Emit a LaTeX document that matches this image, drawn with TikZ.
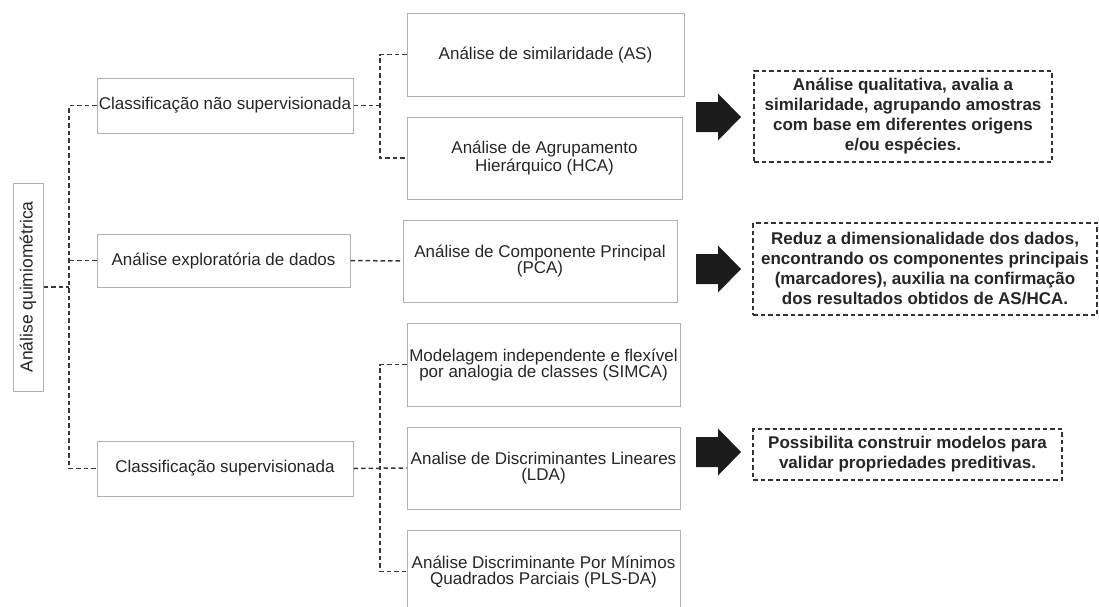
\documentclass[tikz,border=0pt]{standalone}
\usepackage{fontspec}
\setmainfont{Liberation Sans}
\definecolor{boxgray}{HTML}{B0B0B0}
\definecolor{txt}{HTML}{262626}
\definecolor{conncol}{HTML}{383838}
\definecolor{dashcol}{HTML}{333333}
\definecolor{arrowcol}{HTML}{1C1C1C}
\begin{document}
\begin{tikzpicture}[x=1pt,y=-1pt,
  box/.style={draw=boxgray, line width=1pt, fill=white, inner sep=0pt, align=center, text=txt, font=\fontsize{17}{16}\selectfont},
  note/.style={draw=dashcol, line width=1.5pt, dash pattern=on 4.5pt off 3pt, inner sep=0pt, align=center, text=txt, font=\fontsize{17}{20}\selectfont\bfseries},
  conn/.style={draw=conncol, line width=1.5pt, dash pattern=on 4.5pt off 3pt},
  bigarrow/.pic={\fill[arrowcol] (0,-15) -- (22,-15) -- (22,-23.5) -- (45,0) -- (22,23.5) -- (22,15) -- (0,15) -- cycle;}]
\useasboundingbox (0,0) rectangle (1099,606);
\clip (0,0) rectangle (1099,606);
\fill[white] (0,0) rectangle (1099,606);

\coordinate (tx) at (69,0);
\coordinate (bx) at (380,0);

% root
\node[box, minimum width=208, minimum height=30, rotate=90, font=\fontsize{17.5}{16}\selectfont] (root) at (28,287) {Análise quimiométrica};

% level 1
\node[box, minimum width=256, minimum height=55] (c1) at (225,105.5) {Classificação não supervisionada};
\node[box, minimum width=253, minimum height=53] (c2) at (223.5,260.5) {Análise exploratória de dados};
\node[box, minimum width=256, minimum height=55] (c3) at (225,468.5) {Classificação supervisionada};

% level 2
\node[box, minimum width=277, minimum height=83] (as) at (545.5,54.5) {Análise de similaridade (AS)};
\node[box, minimum width=275, minimum height=82] (hca) at (544.5,158) {Análise de Agrupamento\\Hierárquico (HCA)};
\node[box, minimum width=274, minimum height=82] (pca) at (540,261) {Análise de Componente Principal\\(PCA)};
\node[box, minimum width=273, minimum height=83] (simca) at (543.5,364.5) {Modelagem independente e flexível\\por analogia de classes (SIMCA)};
\node[box, minimum width=273, minimum height=82] (lda) at (543.5,468) {Analise de Discriminantes Lineares\\(LDA)};
\node[box, minimum width=273, minimum height=83] (pls) at (543.5,571.5) {Análise Discriminante Por Mínimos\\Quadrados Parciais (PLS-DA)};

% notes
\node[note, minimum width=298, minimum height=91] (n1) at (903,116.5) {Análise qualitativa, avalia a\\similaridade, agrupando amostras\\com base em diferentes origens\\e/ou espécies.};
\node[note, minimum width=344, minimum height=92] (n2) at (925,269) {Reduz a dimensionalidade dos dados,\\encontrando os componentes principais\\(marcadores), auxilia na confirmação\\dos resultados obtidos de AS/HCA.};
\node[note, minimum width=309, minimum height=51] (n3) at (907.5,454.5) {Possibilita construir modelos para\\validar propriedades preditivas.};

% arrows
\pic at (696,117) {bigarrow};
\pic at (696,269) {bigarrow};
\pic at (696,452) {bigarrow};

% connectors
\draw[conn] (c1.west) -- (c1.west -| tx) -- (c3.west -| tx) -- (c3.west);
\draw[conn] (c2.west) -- (c2.west -| tx);
\draw[conn] (root.south) -- (root.south -| tx);

\draw[conn] (c1.east) -- (c1.east -| bx);
\draw[conn] (as.west) -- (as.west -| bx) -- (hca.west -| bx) -- (hca.west);
\draw[conn] (c2.east) -- (pca.west);
\draw[conn] (c3.east) -- (lda.west);
\draw[conn] (simca.west) -- (simca.west -| bx) -- (pls.west -| bx) -- (pls.west);
\end{tikzpicture}
\end{document}
